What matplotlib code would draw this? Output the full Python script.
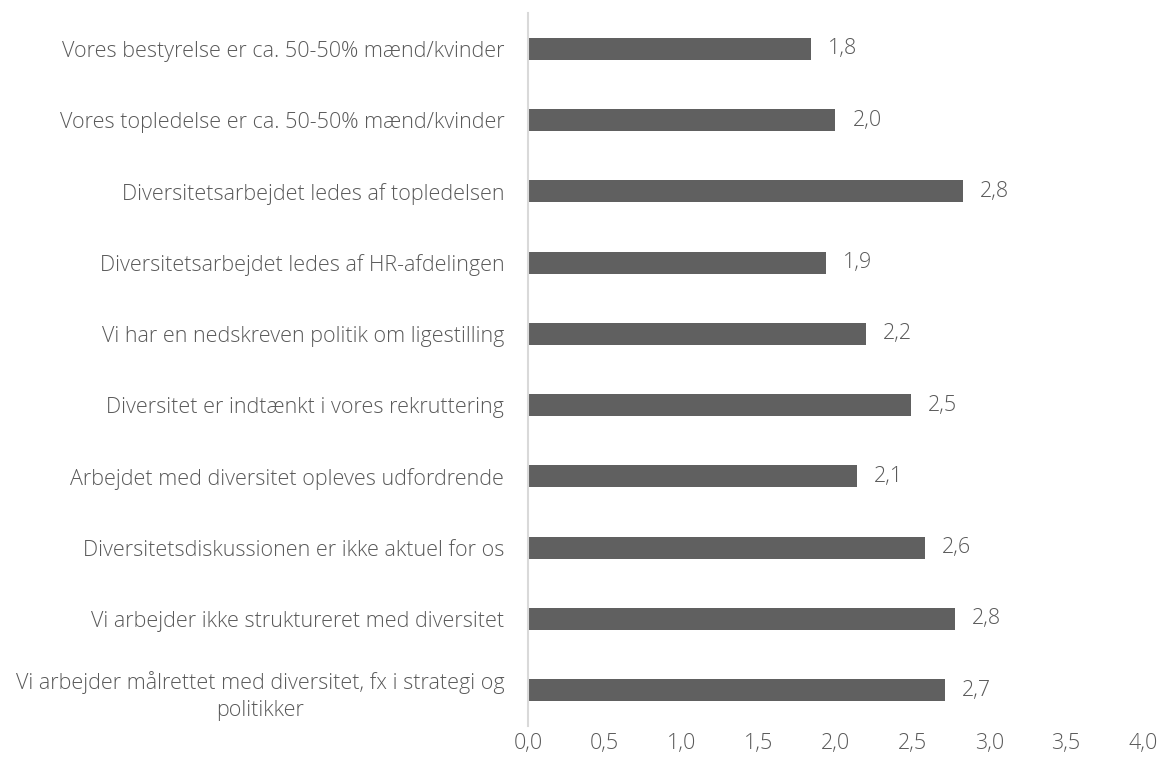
import matplotlib.pyplot as plt

plt.rcParams['font.family'] = ['Open Sans', 'DejaVu Sans']

# statements, top to bottom as shown
labels = [
    'Vores bestyrelse er ca. 50-50% mænd/kvinder',
    'Vores topledelse er ca. 50-50% mænd/kvinder',
    'Diversitetsarbejdet ledes af topledelsen',
    'Diversitetsarbejdet ledes af HR-afdelingen',
    'Vi har en nedskreven politik om ligestilling',
    'Diversitet er indtænkt i vores rekruttering',
    'Arbejdet med diversitet opleves udfordrende',
    'Diversitetsdiskussionen er ikke aktuel for os',
    'Vi arbejder ikke struktureret med diversitet',
    'Vi arbejder målrettet med diversitet, fx i strategi og\npolitikker',
]
values = [1.84, 2.00, 2.83, 1.94, 2.20, 2.49, 2.14, 2.58, 2.78, 2.71]
xticks = [0, 0.5, 1, 1.5, 2, 2.5, 3, 3.5, 4]

txt = '#595959'
fs = 15.5
fig = plt.figure(figsize=(11.68, 7.69), dpi=100)
ax = fig.add_axes([0.452, 0.0564, 0.5266, 0.9262])

pos = list(range(len(values)))
ax.barh(pos, values, height=0.31, color='#606060')
for p, v in zip(pos, values):
    ax.text(v + 0.11, p, f'{v:.1f}'.replace('.', ','), va='center', ha='left',
            fontsize=fs, color=txt, fontweight='light')

ax.set_ylim(len(values) - 0.5, -0.5)
ax.set_xlim(0, 4)
ax.set_yticks(pos)
ax.set_yticklabels(labels, fontsize=fs, color=txt, fontweight='light',
                   multialignment='center', linespacing=1.4)
ax.set_xticks(xticks)
ax.set_xticklabels([f'{t:.1f}'.replace('.', ',') for t in xticks],
                   fontsize=fs, color=txt, fontweight='light')
ax.tick_params(axis='both', length=0)
ax.tick_params(axis='y', pad=17)
ax.tick_params(axis='x', pad=5)
for s in ['top', 'right', 'bottom']:
    ax.spines[s].set_visible(False)
ax.spines['left'].set_color('#d9d9d9')
ax.spines['left'].set_linewidth(1.5)

fig.savefig('out.png', dpi=100)
